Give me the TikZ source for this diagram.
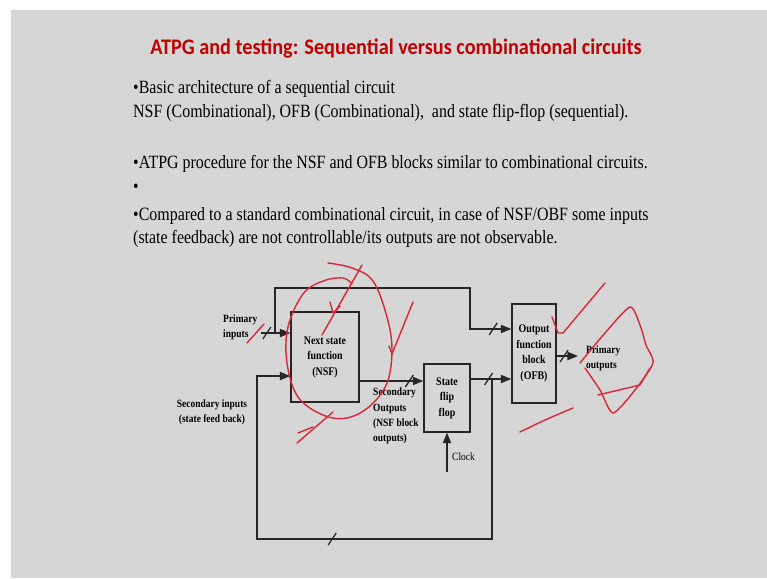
\documentclass[tikz,border=0pt]{standalone}
\usepackage{fontspec}
\setmainfont{Liberation Serif}
\newfontfamily\slidefont{Liberation Serif}[FakeStretch=0.85]
\newfontfamily\titlefont{Carlito}[FakeStretch=0.91]
\usetikzlibrary{arrows.meta, positioning}
\definecolor{slidegray}{RGB}{214,214,214}
\definecolor{titlered}{RGB}{192,0,0}
\definecolor{penred}{RGB}{214,40,56}

\begin{document}
\begin{tikzpicture}[
  x=0.03cm, y=-0.03cm,
  heading/.style={anchor=base, inner sep=0pt, text=titlered, font=\titlefont\bfseries\fontsize{19}{22}\selectfont},
  bullet/.style={anchor=base west, inner sep=0pt, font=\slidefont\fontsize{16}{19}\selectfont},
  block/.style={rectangle, draw=black!85, line width=1.1pt, fill=slidegray, align=center, inner sep=1pt, font=\slidefont\bfseries\fontsize{10}{13.2}\selectfont},
  signame/.style={inner sep=0pt, font=\slidefont\bfseries\fontsize{9.5}{13}\selectfont},
  wire/.style={draw=black!85, line width=1.1pt},
  arrow/.style={wire, -{Triangle[length=9pt, width=7pt]}},
  bus/.pic={\draw[wire, -] (-4,6) -- (4,-6);},
  pen/.style={draw=penred, line width=1.2pt, line cap=round, line join=round}
]
\useasboundingbox (0,0) rectangle (767,578);
\fill[slidegray] (11,10) rectangle (767,578);

% Slide text
\node[heading] (title) at (396,54) {ATPG and testing: Sequential versus combinational circuits};
\node[bullet] (b1) at (133,93) {•Basic architecture of a sequential circuit};
\node[bullet] (b2) at (133,117) {NSF (Combinational), OFB (Combinational),\ \ and state flip-flop (sequential).};
\node[bullet] (b3) at (133,168) {•ATPG procedure for the NSF and OFB blocks similar to combinational circuits.};
\node[bullet] (b4) at (133,192) {•};
\node[bullet] (b5) at (133,220) {•Compared to a standard combinational circuit, in case of NSF/OBF some inputs};
\node[bullet] (b6) at (133,243) {(state feedback) are not controllable/its outputs are not observable.};

% Blocks
\node (nsf) [block, minimum width=2.04cm, minimum height=2.7cm] at (325,357) {Next state\\function\\(NSF)};
\node (sff) [block, minimum width=1.38cm, minimum height=2.04cm] at (447,398) {State\\flip\\flop};
\node (ofb) [block, minimum width=1.32cm, minimum height=2.97cm] at (534,353.5) {Output\\function\\block\\(OFB)};

% Free ends and junctions
\coordinate (pin) at (261,333);
\coordinate (fork) at (275,333);
\coordinate (loop) at (492,379);
\coordinate (pout) at (578,356);
\coordinate (clk) at (447,472);

% Signal names
\node[signame, align=left, anchor=west] (pinname) at (223,327) {Primary\\inputs};
\node[signame, align=center] (sinname) at (212,412) {Secondary inputs\\(state feed back)};
\node[signame, align=left, anchor=west] (soutname) at (373,416) {Secondary\\Outputs\\(NSF block\\outputs)};
\node[signame, align=left, anchor=west] (poutname) at (586,358) {Primary\\outputs};
\node[signame, font=\slidefont\fontsize{9.5}{13}\selectfont, anchor=west] (clkname) at (452,457) {Clock};

% Wires
\draw[arrow] (pin) -- (nsf.west |- pin) pic[pos=0.2]{bus};
\draw[arrow] (fork) |- (470,288) |- (ofb.west |- 0,329) pic[pos=0.78]{bus};
\draw[arrow] (nsf.east |- 0,381) -- (sff.west |- 0,381) pic[pos=0.78]{bus};
\draw[arrow] (sff.east |- loop) -- (ofb.west |- loop) pic[pos=0.44]{bus};
\draw[arrow] (loop) |- (257,539) pic[pos=0.84]{bus} |- (nsf.west |- 0,376);
\draw[arrow] (ofb.east |- pout) -- (pout) pic[pos=0.35]{bus};
\draw[arrow] (clk) -- (sff.south);

% Pen marks
\draw[pen] plot[smooth, tension=0.6] coordinates {(328,263) (352,268) (373,281) (387,317) (392,350) (387,383) (370,406) (347,418) (323,415) (298,397) (287,363) (288,327) (303,294) (323,281) (343,278) (352,284)};
\draw[pen] (362,265) -- (322,335);
\draw[pen] (330,302) -- (333,313) -- (340,306);
\draw[pen] (333,412) -- (297,443);
\draw[pen] (298,433) -- (313,427);
\draw[pen] (389,346) -- (392,354) -- (413,302);
\draw[pen] (247,343) -- (264,324);
\draw[pen] (552,317) -- (558,333) -- (563,333) -- (605,283);
\draw[pen] plot[smooth, tension=0.4] coordinates {(580,363) (605,333) (630,307) (640,325) (646,345) (653,363) (635,390) (613,413) (600,390) (585,368)};
\draw[pen] (598,395) -- (640,385) -- (650,368);
\draw[pen] plot[smooth] coordinates {(520,432) (545,420) (573,408)};
\end{tikzpicture}
\end{document}
